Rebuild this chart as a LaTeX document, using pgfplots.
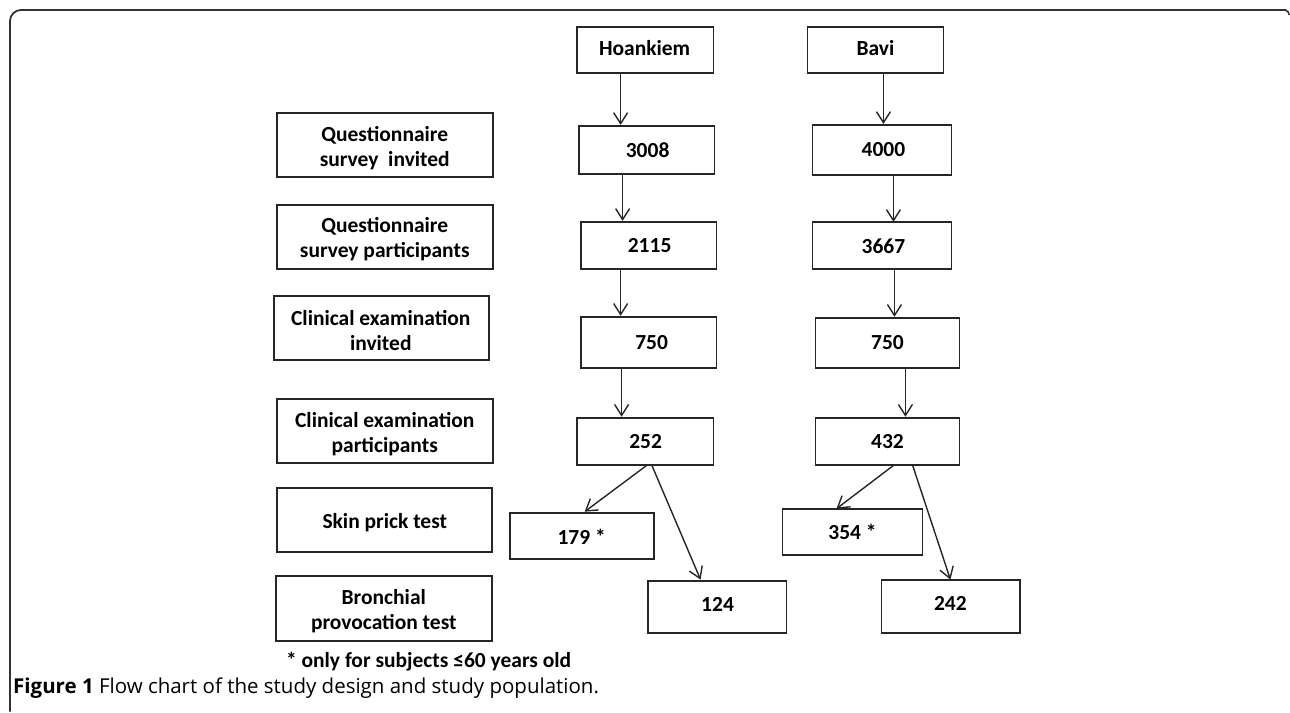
\documentclass[border=0pt]{standalone}
\usepackage{pgfplots}
\pgfplotsset{compat=1.18}
\usepackage{fontspec}
\setmainfont{Carlito}
\newfontfamily\capfont{Open Sans}
\usetikzlibrary{arrows.meta}

\tikzset{
  bx/.style={draw=black!85, line width=1.8pt, mark=none},
  ar/.style={draw=black!85, line width=1.4pt, mark=none,
    -{Straight Barb[length=11pt,width=14pt]}},
  txt/.style={inner sep=0pt, align=center,
    font=\bfseries\fontsize{21.5}{25}\selectfont},
}

% box: x1 y1 x2 y2 (pixel coordinates, y downwards)
\newcommand\bx[4]{\addplot[bx] coordinates {(#1,#2) (#3,#2) (#3,#4) (#1,#4)} -- cycle;}
% arrow: from (x1,y1) to (x2,y2)
\newcommand\arr[4]{\addplot[ar] coordinates {(#1,#2) (#3,#4)};}

\begin{document}
\begin{tikzpicture}
\begin{axis}[
  hide axis, scale only axis,
  width=1290pt, height=712pt,
  xmin=0, xmax=1290, ymin=0, ymax=712,
  y dir=reverse, clip=false,
]
\addplot[draw=none, mark=none] coordinates {(0,0) (1290,712)};

% outer frame
\addplot[draw=black!80, line width=1.8pt, mark=none, rounded corners=11pt]
  coordinates {(10,712) (10,10) (1287,10)};
\addplot[draw=black!80, line width=1.6pt, mark=none]
  coordinates {(1286,10) (1289,12) (1290,15)};

% row labels
\bx{277}{113}{493}{177}
\bx{277}{205}{493}{269}
\bx{274}{296}{489}{360}
\bx{277}{399}{493}{463}
\bx{277}{488}{492}{552}
\bx{276}{576}{492}{641}
\node[txt] at (axis cs:385,148) {Questionnaire\\survey\ \ invited};
\node[txt] at (axis cs:385,239) {Questionnaire\\survey participants};
\node[txt] at (axis cs:381,331) {Clinical examination\\invited};
\node[txt] at (axis cs:385,434) {Clinical examination\\participants};
\node[txt] at (axis cs:385,523) {Skin prick test};
\node[txt] at (axis cs:384,612) {Bronchial\\provocation test};

% Hoankiem
\bx{577}{27}{714}{73}
\bx{579}{126}{715}{174}
\bx{581}{222}{717}{269}
\bx{581}{317}{717}{368}
\bx{577}{418}{714}{465}
\bx{510}{513}{654}{559}
\bx{648}{581}{787}{633}
\arr{621}{73}{621}{125}
\arr{623}{174}{623}{221}
\arr{621}{269}{621}{316}
\arr{622}{368}{622}{417}
\arr{648}{465}{585}{512}
\arr{652}{465}{701}{580}
\node[txt] at (axis cs:645,48) {Hoankiem};
\node[txt] at (axis cs:648,150) {3008};
\node[txt] at (axis cs:650,246) {2115};
\node[txt] at (axis cs:652,343) {750};
\node[txt] at (axis cs:646,442) {252};
\node[txt] at (axis cs:582,537) {179 *};
\node[txt] at (axis cs:718,605) {124};

% Bavi
\bx{808}{27}{944}{73}
\bx{813}{125}{952}{175}
\bx{813}{222}{952}{269}
\bx{816}{318}{960}{368}
\bx{816}{418}{960}{465}
\bx{783}{509}{923}{555}
\bx{882}{580}{1021}{633}
\arr{884}{73}{884}{124}
\arr{894}{175}{894}{222}
\arr{895}{269}{895}{317}
\arr{906}{368}{906}{417}
\arr{895}{465}{837}{509}
\arr{913}{465}{951}{580}
\node[txt] at (axis cs:876,48) {Bavi};
\node[txt] at (axis cs:884,150) {4000};
\node[txt] at (axis cs:884,246) {3667};
\node[txt] at (axis cs:888,343) {750};
\node[txt] at (axis cs:888,442) {432};
\node[txt] at (axis cs:853,532) {354 *};
\node[txt] at (axis cs:951,604) {242};

% footnote and caption
\node[inner sep=0pt, anchor=west, font=\bfseries\fontsize{21.5}{24}\selectfont]
  at (axis cs:286,662) {* only for subjects ≤60 years old};
\node[inner sep=0pt, anchor=west, font=\capfont\fontsize{20.5}{24}\selectfont]
  at (axis cs:13,689) {\textbf{Figure 1} Flow chart of the study design and study population.};
\end{axis}
\end{tikzpicture}
\end{document}
